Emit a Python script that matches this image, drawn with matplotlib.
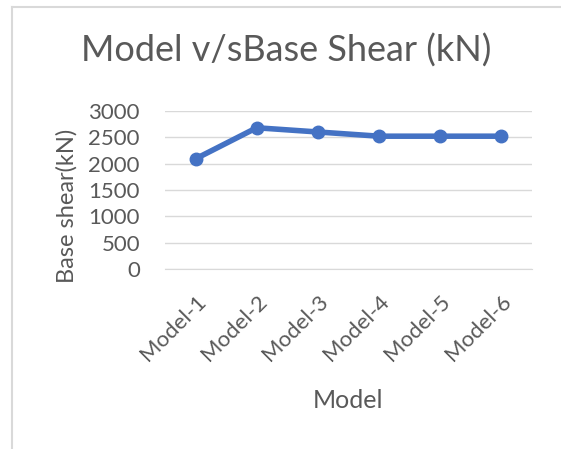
import matplotlib.pyplot as plt
from matplotlib.lines import Line2D

models = ["Model-1", "Model-2", "Model-3", "Model-4", "Model-5", "Model-6"]
base_shear = [2090, 2680, 2600, 2520, 2520, 2520]
yticks = [0, 500, 1000, 1500, 2000, 2500, 3000]

plt.rcParams['font.family'] = ['Lato', 'DejaVu Sans']
grey = "#595959"

fig = plt.figure(figsize=(5.61, 4.49), dpi=100)
ax = fig.add_axes([0.294, 0.401, 0.654, 0.352])

x = range(len(models))
ax.plot(x, base_shear, color="#4472c4", linewidth=4, marker="o", markersize=9)

ax.set_xlim(-0.5, len(models) - 0.5)
ax.set_ylim(0, 3000)
ax.set_yticks(yticks)
ax.set_xticks(list(x))
ax.set_xticklabels(models, rotation=45, ha="right", rotation_mode="anchor")
ax.tick_params(axis="both", length=0, labelsize=16, colors=grey)
ax.tick_params(axis="x", pad=16)
ax.tick_params(axis="y", pad=18)
ax.grid(axis="y", color="#d9d9d9", linewidth=1)
ax.set_axisbelow(True)
for s in ["top", "right", "left"]:
    ax.spines[s].set_visible(False)
ax.spines["bottom"].set_color("#d9d9d9")

ax.set_ylabel("Base shear(kN)", fontsize=17, color=grey, va="center")
ax.yaxis.set_label_coords(-0.267, 0.40)
ax.set_xlabel("Model", fontsize=18, color=grey, va="center")
ax.xaxis.set_label_coords(0.5, -0.83)
fig.text(0.51, 0.888, "Model v/sBase Shear (kN)", fontsize=26, color=grey,
         ha="center", va="center")

# chart frame
fig.add_artist(Line2D([12 / 561, 12 / 561], [0, 1 - 7 / 449], color="#d9d9d9", linewidth=1.5))
fig.add_artist(Line2D([12 / 561, 1], [1 - 7 / 449, 1 - 7 / 449], color="#d9d9d9", linewidth=1.5))

fig.savefig("out.png", dpi=100)
